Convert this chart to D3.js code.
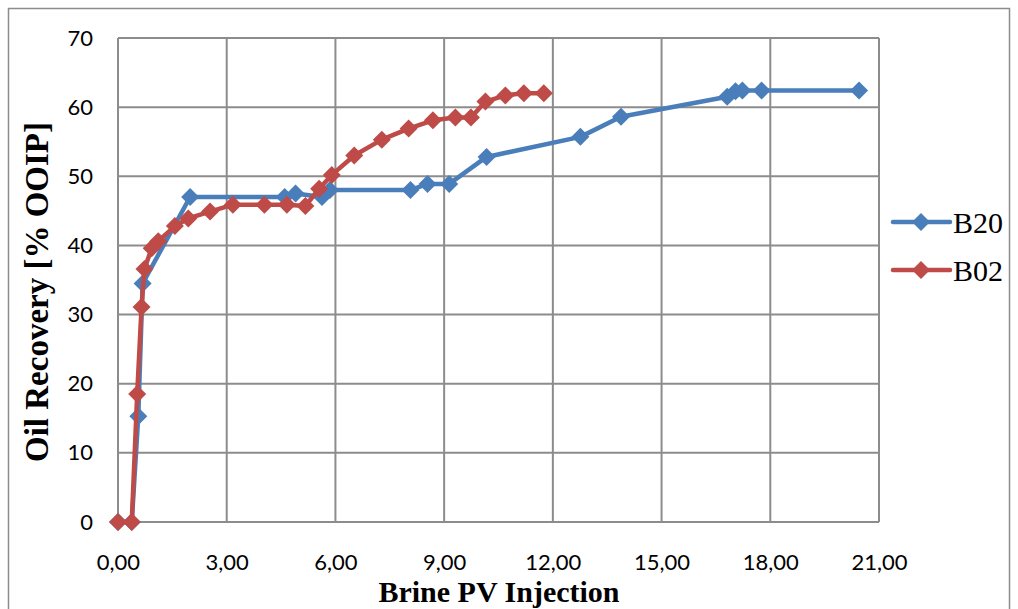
<!DOCTYPE html>
<html>
<head>
<meta charset="utf-8">
<script src="https://cdn.jsdelivr.net/npm/d3@7"></script>
<style>
  body { margin: 0; background: #fff; }
  .tick text { font-family: Lato, "DejaVu Sans", sans-serif; font-size: 22px; fill: #000; }
  .title { font-family: "Liberation Serif", "Times New Roman", serif; font-weight: bold; fill: #000; }
  .legend text { font-family: "Liberation Serif", "Times New Roman", serif; font-size: 30px; fill: #000; }
</style>
</head>
<body>
<div id="chart"></div>
<script>
var W = 1018, H = 609

// series: brine PV injected vs oil recovery
var b20X = [0, 0.38, 0.56, 0.68, 1.99, 4.6, 4.9, 5.63, 5.85, 8.07, 8.54, 9.14, 10.17, 12.76, 13.88, 16.81, 17.04, 17.23, 17.76, 20.45]
var b20Y = [0, 0, 15.3, 34.5, 47.0, 47.0, 47.5, 47.0, 48.0, 48.0, 48.9, 48.9, 52.8, 55.7, 58.6, 61.5, 62.3, 62.4, 62.4, 62.4]

var b02X = [0, 0.38, 0.53, 0.65, 0.73, 0.93, 1.11, 1.57, 1.94, 2.54, 3.17, 4.04, 4.66, 5.17, 5.55, 5.9, 6.52, 7.28, 8.02, 8.69, 9.31, 9.74, 10.14, 10.69, 11.2, 11.75]
var b02Y = [0, 0, 18.5, 31.1, 36.6, 39.6, 40.6, 42.8, 43.9, 44.9, 45.9, 45.9, 45.9, 45.7, 48.2, 50.2, 53.0, 55.3, 56.9, 58.1, 58.5, 58.5, 60.8, 61.7, 62.0, 62.0]

var seriesNames = ["B20", "B02"]
var seriesColors = ["#4a7ebb", "#be4b48"]

var xTicks = [0, 3, 6, 9, 12, 15, 18, 21]
var yTicks = [0, 10, 20, 30, 40, 50, 60, 70]

var margin = {top: 38, left: 118, right: 139, bottom: 87}
var w = W - margin.left - margin.right
var h = H - margin.top - margin.bottom

var svg = d3.select("#chart").append("svg")
    .attr("width", W)
    .attr("height", H)

// outer chart border
svg.append("rect")
    .attr("x", 8.5).attr("y", 8.5)
    .attr("width", 1001).attr("height", 640)
    .attr("fill", "none")
    .attr("stroke", "#8c8c8c")
    .attr("stroke-width", 1.5)

var g = svg.append("g")
    .attr("transform", "translate(" + margin.left + "," + margin.top + ")")

var x = d3.scaleLinear().domain([0, 21]).range([0, w])
var y = d3.scaleLinear().domain([0, 70]).range([h, 0])

// gridlines
g.append("g")
    .selectAll("line.vg")
    .data(xTicks)
    .enter().append("line")
    .attr("x1", function(d) { return x(d) }).attr("x2", function(d) { return x(d) })
    .attr("y1", 0).attr("y2", h)
    .attr("stroke", "#8c8c8c").attr("stroke-width", 2)

g.append("g")
    .selectAll("line.hg")
    .data(yTicks)
    .enter().append("line")
    .attr("x1", 0).attr("x2", w)
    .attr("y1", function(d) { return y(d) }).attr("y2", function(d) { return y(d) })
    .attr("stroke", "#8c8c8c").attr("stroke-width", 2)

// axes (labels only, Excel style)
var xAxis = d3.axisBottom(x).tickValues(xTicks).tickSize(0).tickPadding(32)
    .tickFormat(function(d) { return d3.format(".2f")(d).replace(".", ",") })
var yAxis = d3.axisLeft(y).tickValues(yTicks).tickSize(0).tickPadding(25)
    .tickFormat(d3.format("d"))

g.append("g").attr("transform", "translate(0," + h + ")").call(xAxis)
    .call(function(s) { s.select(".domain").remove() })
g.append("g").call(yAxis)
    .call(function(s) { s.select(".domain").remove() })

// series
var data = [d3.zip(b20X, b20Y), d3.zip(b02X, b02Y)]

var line = d3.line()
    .x(function(d) { return x(d[0]) })
    .y(function(d) { return y(d[1]) })

function diamond(r) {
    return "M0," + (-r) + "L" + r + ",0L0," + r + "L" + (-r) + ",0Z"
}

data.forEach(function(pts, i) {
    var sg = g.append("g")
    sg.append("path")
        .datum(pts)
        .attr("d", line)
        .attr("fill", "none")
        .attr("stroke", seriesColors[i])
        .attr("stroke-width", 4.5)
        .attr("stroke-linejoin", "round")
    sg.selectAll("path.pt")
        .data(pts)
        .enter().append("path")
        .attr("class", "pt")
        .attr("d", diamond(9))
        .attr("transform", function(d) { return "translate(" + x(d[0]) + "," + y(d[1]) + ")" })
        .attr("fill", seriesColors[i])
})

// axis titles
svg.append("text")
    .attr("class", "title")
    .attr("text-anchor", "middle")
    .attr("font-size", 30)
    .attr("x", 499).attr("y", 602)
    .text("Brine PV Injection")

svg.append("text")
    .attr("class", "title")
    .attr("text-anchor", "middle")
    .attr("font-size", 33)
    .attr("transform", "translate(48,292) rotate(-90)")
    .text("Oil Recovery [% OOIP]")

// legend
var legend = svg.append("g").attr("class", "legend")
seriesNames.forEach(function(name, i) {
    var ly = 222 + i * 48
    legend.append("line")
        .attr("x1", 893).attr("x2", 950)
        .attr("y1", ly).attr("y2", ly)
        .attr("stroke", seriesColors[i]).attr("stroke-width", 4.5)
        .attr("stroke-linecap", "round")
    legend.append("path")
        .attr("d", diamond(9))
        .attr("transform", "translate(921," + ly + ")")
        .attr("fill", seriesColors[i])
    legend.append("text")
        .attr("x", 953).attr("y", ly + 11)
        .text(name)
})
</script>
</body>
</html>
